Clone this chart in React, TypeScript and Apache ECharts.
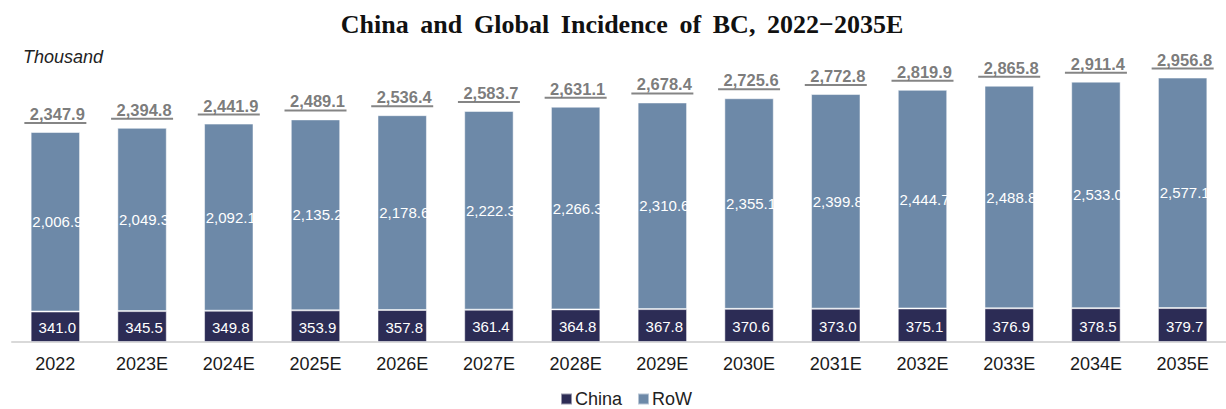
import React, { useEffect, useRef } from "react";
import * as echarts from "echarts";

const categories = ["2022", "2023E", "2024E", "2025E", "2026E", "2027E", "2028E", "2029E", "2030E", "2031E", "2032E", "2033E", "2034E", "2035E"];
const china = [341.0, 345.5, 349.8, 353.9, 357.8, 361.4, 364.8, 367.8, 370.6, 373.0, 375.1, 376.9, 378.5, 379.7];
const row = [2006.9, 2049.3, 2092.1, 2135.2, 2178.6, 2222.3, 2266.3, 2310.6, 2355.1, 2399.8, 2444.7, 2488.8, 2533.0, 2577.1];
const totals = [2347.9, 2394.8, 2441.9, 2489.1, 2536.4, 2583.7, 2631.1, 2678.4, 2725.6, 2772.8, 2819.9, 2865.8, 2911.4, 2956.8];
const titleText = "China and Global Incidence of BC, 2022\u22122035E";

const fmt = (v: number) =>
  v.toLocaleString("en-US", { minimumFractionDigits: 1, maximumFractionDigits: 1 });

export default function App() {
  const ref = useRef<HTMLDivElement>(null);
  useEffect(() => {
    if (!ref.current) return;
    const chart = echarts.init(ref.current, null, { renderer: "svg" });
    const font = "Liberation Sans, Arial, sans-serif";
    chart.setOption({
      animation: false,
      textStyle: { fontFamily: font },
      title: {
        text: titleText.split(" ").join(" \u2009"),
        left: 617,
        textAlign: "center",
        top: 6,
        textStyle: { fontFamily: "Liberation Serif, Times New Roman, serif", fontWeight: "bold", fontSize: 26, color: "#111" },
      },
      graphic: [
        {
          type: "text",
          left: 23,
          top: 48,
          style: { text: "Thousand", font: "italic 18px Liberation Sans, Arial, sans-serif", fill: "#222" },
        },
      ],
      legend: {
        data: ["China", "RoW"],
        top: 385,
        left: 555,
        itemWidth: 11,
        itemHeight: 11,
        itemGap: 15,
        icon: "rect",
        textStyle: { fontSize: 18, color: "#222", padding: [0, 0, 0, -2] },
      },
      grid: { left: 12, width: 1220, top: 29, height: 313, containLabel: false },
      xAxis: {
        type: "category",
        data: categories,
        axisLine: { lineStyle: { color: "#d9d9d9", width: 2 } },
        axisTick: { show: false },
        axisLabel: { fontSize: 18, color: "#1a1a1a", margin: 13 },
      },
      yAxis: { type: "value", min: 0, max: 3500, show: false, splitLine: { show: false } },
      series: [
        {
          name: "China",
          type: "bar",
          stack: "t",
          data: china,
          barWidth: "57%",
          itemStyle: { color: "#2c2c55", borderColor: "rgba(255,255,255,0.5)", borderWidth: 1 },
          label: { show: true, position: "inside", color: "#fff", fontSize: 15, offset: [2, 1], formatter: (p: any) => fmt(p.value) },
        },
        {
          name: "RoW",
          type: "bar",
          stack: "t",
          data: row,
          itemStyle: { color: "#6d89a8", borderColor: "rgba(255,255,255,0.5)", borderWidth: 1 },
          label: { show: true, position: "inside", color: "#fff", fontSize: 15, offset: [2, 0], formatter: (p: any) => fmt(p.value) },
        },
        {
          name: "Total",
          type: "scatter",
          data: totals,
          symbolSize: 0,
          silent: true,
          label: {
            show: true,
            position: "top",
            distance: 8,
            formatter: (p: any) => "{v|" + fmt(p.value) + "}\n{u|}",
            rich: {
              v: { fontSize: 16.5, fontWeight: "bold", color: "#595959", lineHeight: 16, padding: [0, 0, 0, 4] },
              u: { width: 62, height: 2, backgroundColor: "#666666" },
            },
          },
        },
      ],
    });
    return () => chart.dispose();
  }, []);
  return <div ref={ref} style={{ position: "absolute", left: 0, top: 0, width: 1226, height: 409 }} />;
}
